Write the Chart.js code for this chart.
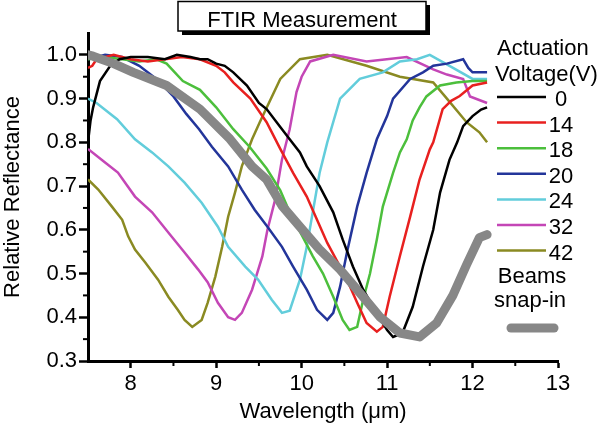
<!DOCTYPE html>
<html>
<head>
<meta charset="utf-8">
<script src="https://cdn.jsdelivr.net/npm/chart.js@4.4.0/dist/chart.umd.min.js"></script>
<style>
html, body { margin: 0; padding: 0; background: #fff; }
</style>
</head>
<body>
<canvas id="ftirChart" width="600" height="429"></canvas>
<script>
// wavelength (um) / relative reflectance pairs
const v0 = [[7.5,0.80],[7.53,0.85],[7.56,0.88],[7.64,0.94],[7.76,0.975],[7.87,0.99],[8.0,0.995],[8.2,0.995],[8.4,0.99],[8.54,1.0],[8.7,0.995],[8.81,0.99],[8.9,0.99],[9.0,0.98],[9.1,0.975],[9.2,0.96],[9.36,0.93],[9.5,0.89],[9.59,0.876],[9.75,0.835],[9.86,0.807],[9.98,0.777],[10.06,0.745],[10.21,0.70],[10.37,0.64],[10.48,0.578],[10.6,0.516],[10.72,0.463],[10.88,0.41],[11.0,0.371],[11.07,0.355],[11.18,0.364],[11.3,0.424],[11.42,0.516],[11.54,0.6],[11.62,0.685],[11.73,0.76],[11.82,0.80],[11.89,0.837],[12.0,0.86],[12.1,0.875],[12.17,0.88]];
const v14 = [[7.5,0.97],[7.55,0.975],[7.6,0.99],[7.8,1.0],[8.0,0.99],[8.2,0.985],[8.4,0.99],[8.6,0.995],[8.81,0.99],[9.0,0.975],[9.1,0.96],[9.2,0.937],[9.4,0.9],[9.59,0.846],[9.75,0.785],[9.9,0.73],[10.06,0.676],[10.18,0.623],[10.3,0.57],[10.41,0.53],[10.53,0.486],[10.65,0.433],[10.76,0.387],[10.88,0.367],[10.95,0.378],[11.03,0.447],[11.15,0.54],[11.27,0.63],[11.38,0.715],[11.5,0.784],[11.54,0.8],[11.65,0.876],[11.75,0.895],[11.85,0.906],[12.0,0.93],[12.17,0.937]];
const v18 = [[7.5,0.99],[7.7,0.995],[7.9,0.99],[8.1,0.985],[8.3,0.99],[8.42,0.98],[8.61,0.94],[8.81,0.92],[9.0,0.88],[9.2,0.83],[9.39,0.79],[9.59,0.74],[9.75,0.69],[9.86,0.64],[10.01,0.585],[10.13,0.54],[10.25,0.5],[10.37,0.447],[10.48,0.394],[10.56,0.371],[10.65,0.378],[10.72,0.44],[10.8,0.5],[10.88,0.578],[10.95,0.653],[11.07,0.73],[11.15,0.777],[11.23,0.807],[11.3,0.85],[11.38,0.88],[11.46,0.905],[11.62,0.93],[11.81,0.937],[12.0,0.94],[12.17,0.94]];
const v20 = [[7.5,0.99],[7.7,1.0],[7.9,0.995],[8.1,0.975],[8.3,0.945],[8.5,0.905],[8.65,0.865],[8.8,0.83],[8.95,0.79],[9.14,0.745],[9.3,0.692],[9.45,0.646],[9.6,0.607],[9.77,0.561],[9.9,0.516],[10.06,0.463],[10.18,0.417],[10.3,0.394],[10.37,0.41],[10.45,0.47],[10.53,0.548],[10.65,0.653],[10.76,0.73],[10.88,0.807],[11.0,0.86],[11.07,0.9],[11.27,0.945],[11.42,0.96],[11.54,0.975],[11.7,0.98],[11.89,0.99],[11.95,0.97],[12.0,0.96],[12.17,0.96]];
const v24 = [[7.5,0.9],[7.6,0.89],[7.84,0.853],[8.05,0.807],[8.25,0.777],[8.44,0.745],[8.63,0.708],[8.83,0.662],[9.02,0.607],[9.14,0.561],[9.34,0.516],[9.49,0.486],[9.65,0.44],[9.77,0.41],[9.86,0.415],[9.98,0.486],[10.06,0.561],[10.13,0.64],[10.21,0.73],[10.3,0.8],[10.45,0.9],[10.68,0.945],[10.95,0.96],[11.15,0.985],[11.35,0.99],[11.5,1.0],[11.73,0.975],[12.0,0.945],[12.17,0.945]];
const v32 = [[7.5,0.785],[7.7,0.754],[7.85,0.731],[8.05,0.676],[8.25,0.64],[8.44,0.594],[8.63,0.548],[8.79,0.509],[8.9,0.48],[9.02,0.433],[9.14,0.4],[9.22,0.394],[9.3,0.41],[9.42,0.463],[9.54,0.539],[9.6,0.6],[9.69,0.669],[9.77,0.761],[9.86,0.83],[9.94,0.915],[10.0,0.95],[10.1,0.985],[10.37,1.0],[10.76,0.985],[11.23,0.995],[11.54,0.967],[11.7,0.955],[11.89,0.945],[11.97,0.905],[12.17,0.89]];
const v42 = [[7.5,0.715],[7.62,0.692],[7.78,0.653],[7.9,0.623],[7.97,0.585],[8.05,0.555],[8.17,0.525],[8.32,0.486],[8.44,0.447],[8.55,0.417],[8.63,0.394],[8.72,0.378],[8.83,0.394],[8.9,0.433],[8.99,0.493],[9.07,0.561],[9.14,0.63],[9.22,0.685],[9.3,0.745],[9.42,0.807],[9.51,0.846],[9.75,0.945],[9.98,0.99],[10.3,1.0],[10.76,0.975],[11.15,0.95],[11.54,0.937],[11.7,0.9],[11.93,0.846],[12.08,0.823],[12.17,0.8]];
const snapIn = [[7.5,1.0],[7.56,0.997],[7.8,0.98],[8.03,0.96],[8.42,0.93],[8.81,0.876],[9.15,0.81],[9.42,0.745],[9.59,0.715],[9.77,0.655],[9.98,0.607],[10.21,0.555],[10.45,0.509],[10.68,0.456],[10.92,0.4],[11.15,0.364],[11.38,0.355],[11.58,0.387],[11.77,0.45],[11.93,0.52],[12.08,0.582],[12.17,0.589]];

const voltageLabels = ['0', '14', '18', '20', '24', '32', '42'];
const voltageSeries = [v0, v14, v18, v20, v24, v32, v42];
const voltageColors = ['#000000', '#e8201f', '#4cbf3c', '#23359a', '#62cddb', '#c446b6', '#8a8a22'];

const xMajor = [8, 9, 10, 11, 12, 13];
const xMinor = [8.5, 9.5, 10.5, 11.5, 12.5];
const yMajor = [0.3, 0.4, 0.5, 0.6, 0.7, 0.8, 0.9, 1.0];
const yMinor = [0.35, 0.45, 0.55, 0.65, 0.75, 0.85, 0.95];

const FONT = '"Liberation Sans", Arial, sans-serif';
Chart.defaults.color = '#000';
Chart.defaults.font.family = FONT;

const toPts = arr => arr.map(p => ({ x: p[0], y: p[1] }));

const datasets = voltageSeries.map((s, i) => ({
    label: voltageLabels[i],
    data: toPts(s),
    borderColor: voltageColors[i],
    borderWidth: 2.5,
    pointRadius: 0,
    tension: 0,
    order: 1
}));
datasets.push({
    label: 'Beams snap-in',
    data: toPts(snapIn),
    borderColor: '#878787',
    borderWidth: 9,
    borderCapStyle: 'round',
    borderJoinStyle: 'round',
    pointRadius: 0,
    tension: 0,
    order: 0
});

const decor = {
    id: 'decor',
    afterDraw(chart) {
        const c = chart.ctx;
        const xs = chart.scales.x, ys = chart.scales.y;
        const area = chart.chartArea;
        c.save();
        // minor ticks
        c.strokeStyle = '#000';
        c.lineWidth = 2;
        xMinor.forEach(v => {
            const px = xs.getPixelForValue(v);
            c.beginPath(); c.moveTo(px, area.bottom); c.lineTo(px, area.bottom + 5); c.stroke();
        });
        yMinor.forEach(v => {
            const py = ys.getPixelForValue(v);
            c.beginPath(); c.moveTo(area.left - 5, py); c.lineTo(area.left, py); c.stroke();
        });

        // title box with shadow
        c.fillStyle = '#000';
        c.fillRect(182, 5, 248, 30);
        c.fillStyle = '#fff';
        c.fillRect(178, 1.5, 248, 29.5);
        c.lineWidth = 1.5;
        c.strokeRect(178, 1.5, 248, 29.5);
        c.fillStyle = '#000';
        c.font = '22px ' + FONT;
        c.textAlign = 'center';
        c.textBaseline = 'alphabetic';
        c.fillText('FTIR Measurement', 302, 27);

        // legend
        c.textAlign = 'left';
        c.fillText('Actuation', 497, 55);
        c.fillText('Voltage(V)', 495, 81);
        const n = voltageLabels.length;
        for (let i = 0; i < n; i++) {
            const y = 97 + i * 25.6;
            c.strokeStyle = chart.data.datasets[i].borderColor;
            c.lineWidth = 2.5;
            c.beginPath(); c.moveTo(497, y); c.lineTo(546, y); c.stroke();
            c.textAlign = 'center';
            c.fillText(voltageLabels[i], 561, y + 9);
        }
        c.textAlign = 'center';
        c.fillText('Beams', 532, 283);
        c.fillText('snap-in', 530, 307);
        c.strokeStyle = '#878787';
        c.lineWidth = 9;
        c.lineCap = 'round';
        c.beginPath(); c.moveTo(511, 328); c.lineTo(554, 328); c.stroke();
        c.restore();
    }
};

new Chart(document.getElementById('ftirChart'), {
    type: 'line',
    data: { datasets },
    options: {
        responsive: false,
        animation: false,
        layout: { padding: { left: 0, right: 42, top: 33, bottom: 0 } },
        plugins: { legend: { display: false }, tooltip: { enabled: false } },
        scales: {
            x: {
                type: 'linear',
                min: 7.5,
                max: 13,
                afterBuildTicks: s => { s.ticks = xMajor.map(v => ({ value: v })); },
                afterFit: s => { s.height = 68; },
                grid: { drawOnChartArea: false, drawTicks: true, tickLength: 7, tickWidth: 2.5, tickColor: '#000' },
                border: { color: '#000', width: 3 },
                ticks: { autoSkip: false, maxRotation: 0, padding: 3, font: { size: 22 }, callback: v => String(v) },
                title: { display: true, text: 'Wavelength (\u03bcm)', font: { size: 22 }, padding: { top: 0, bottom: 4 } }
            },
            y: {
                min: 0.3,
                max: 1.05,
                afterBuildTicks: s => { s.ticks = yMajor.map(v => ({ value: v })); },
                afterFit: s => { s.width = 88; },
                grid: { drawOnChartArea: false, drawTicks: true, tickLength: 9, tickWidth: 2.5, tickColor: '#000' },
                border: { color: '#000', width: 3 },
                ticks: { autoSkip: false, padding: 2, font: { size: 22 }, callback: v => v.toFixed(1) },
                title: { display: true, text: 'Relative Reflectance', font: { size: 22 }, padding: { top: 0, bottom: 0 } }
            }
        }
    },
    plugins: [decor]
});
</script>
</body>
</html>
